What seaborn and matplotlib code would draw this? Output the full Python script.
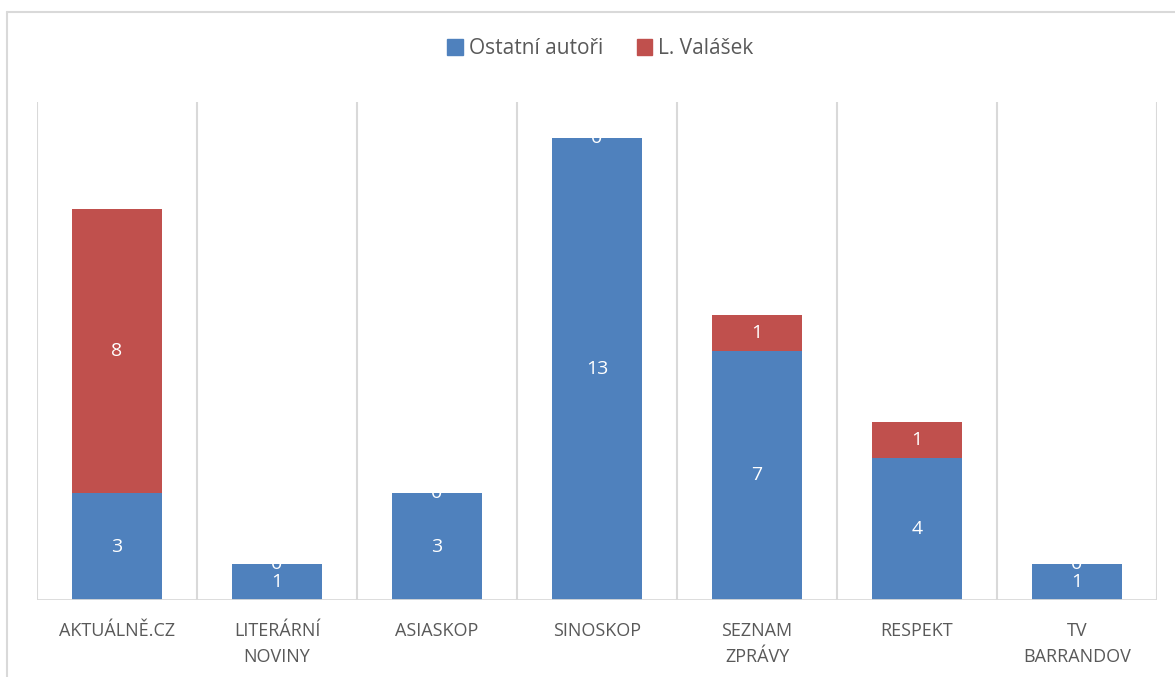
import numpy as np
import pandas as pd
import seaborn as sns
import matplotlib.pyplot as plt
from matplotlib.patches import Rectangle
from matplotlib.lines import Line2D

categories = ["AKTUÁLNĚ.CZ", "LITERÁRNÍ\nNOVINY", "ASIASKOP", "SINOSKOP",
              "SEZNAM\nZPRÁVY", "RESPEKT", "TV\nBARRANDOV"]
ostatni = [3, 1, 3, 13, 7, 4, 1]
valasek = [8, 0, 0, 0, 1, 1, 0]
series_names = ["Ostatní autoři", "L. Valášek"]

blue = "#4F81BD"
red = "#C0504D"
grid_c = "#D9D9D9"
text_c = "#595959"

df = pd.DataFrame({"kategorie": categories, "ostatni": ostatni, "valasek": valasek})
df["celkem"] = df["ostatni"] + df["valasek"]

sns.set_theme(style="white")
plt.rcParams["font.family"] = ["Open Sans", "DejaVu Sans"]

fig = plt.figure(figsize=(11.75, 6.77), dpi=100)
ax = fig.add_axes([37 / 1175, 77 / 677, 1120 / 1175, 498 / 677])

sns.barplot(data=df, x="kategorie", y="celkem", color=red, width=0.56,
            saturation=1, linewidth=0, ax=ax, zorder=2)
sns.barplot(data=df, x="kategorie", y="ostatni", color=blue, width=0.56,
            saturation=1, linewidth=0, ax=ax, zorder=3)

for i, row in df.iterrows():
    ax.text(i, row["ostatni"] / 2, str(row["ostatni"]), color="white",
            ha="center", va="center", fontsize=14, zorder=5)
    ax.text(i, row["ostatni"] + row["valasek"] / 2, str(row["valasek"]),
            color="white", ha="center", va="center", fontsize=14, zorder=5)

ax.set_ylim(0, 14)
ax.set_xlim(-0.5, len(categories) - 0.5)
for b in np.arange(-0.5, len(categories), 1):
    ax.axvline(b, color=grid_c, lw=1.5, zorder=1)
ax.axhline(0, color=grid_c, lw=2, zorder=4)
for s in ax.spines.values():
    s.set_visible(False)
ax.set_yticks([])
ax.set_xlabel("")
ax.set_ylabel("")
ax.tick_params(axis="x", length=0, pad=16, labelsize=13, colors=text_c)
ax.set_xticks(range(len(categories)))
ax.set_xticklabels(categories, linespacing=1.55)

handles = [Rectangle((0, 0), 1, 1, color=blue), Rectangle((0, 0), 1, 1, color=red)]
fig.legend(handles, series_names, loc="center", bbox_to_anchor=(0.511, 0.928),
           ncol=2, frameon=False, fontsize=15, labelcolor=text_c,
           handlelength=0.75, handleheight=0.75, handletextpad=0.3, columnspacing=1.6)

fig.add_artist(Line2D([7 / 1175, 7 / 1175], [0, 1 - 12 / 677], color=grid_c, lw=1.5,
                      transform=fig.transFigure))
fig.add_artist(Line2D([7 / 1175, 1], [1 - 12 / 677, 1 - 12 / 677], color=grid_c, lw=1.5,
                      transform=fig.transFigure))

fig.savefig("out.png", dpi=100)
